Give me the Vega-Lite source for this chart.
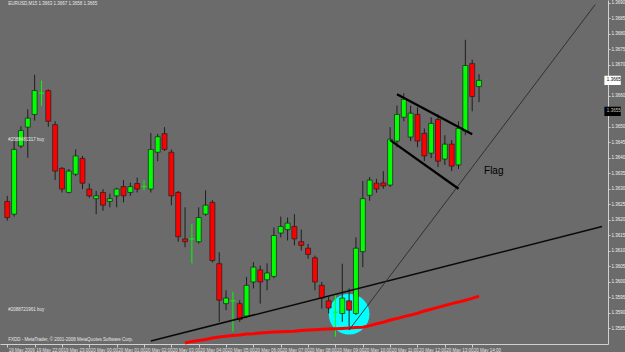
{
  "$schema": "https://vega.github.io/schema/vega-lite/v6.json",
  "width": 608,
  "height": 344,
  "autosize": "none",
  "padding": {"left": 0, "top": 0, "right": 17, "bottom": 8},
  "background": "#6b6b6b",
  "view": {"stroke": null, "fill": "#6b6b6b"},
  "config": {
    "font": "Liberation Sans",
    "axis": {"labelOverlap": false, "labelFlush": false, "grid": false, "labelFontSize": 4.5, "labelColor": "#e6e6e6", "tickColor": "#d0d0d0", "domainColor": "#d0d0d0", "tickSize": 3},
    "axisY": {"labelPadding": 1, "labelBaseline": "middle", "labelOverlap": false, "labelAlign": "left", "labelFontSize": 4.5, "tickSize": 2, "labelColor": "#f0f0f0", "labelBound": false}
  },
  "datasets": {
    "candles": [
      {"t": "2009-05-19T21:00:00Z", "open": 1.36259, "high": 1.36277, "low": 1.36197, "close": 1.36207, "dir": "down"},
      {"t": "2009-05-19T21:15:00Z", "open": 1.36218, "high": 1.3646, "low": 1.3621, "close": 1.36427, "dir": "up"},
      {"t": "2009-05-19T21:30:00Z", "open": 1.36438, "high": 1.36502, "low": 1.36431, "close": 1.36488, "dir": "up"},
      {"t": "2009-05-19T21:45:00Z", "open": 1.36499, "high": 1.36557, "low": 1.364, "close": 1.36528, "dir": "up"},
      {"t": "2009-05-19T22:00:00Z", "open": 1.3654, "high": 1.36668, "low": 1.3652, "close": 1.36617, "dir": "up"},
      {"t": "2009-05-19T22:15:00Z", "open": 1.36609, "high": 1.36649, "low": 1.36568, "close": 1.36609, "dir": "doji"},
      {"t": "2009-05-19T22:30:00Z", "open": 1.36617, "high": 1.36621, "low": 1.365, "close": 1.36518, "dir": "down"},
      {"t": "2009-05-19T22:45:00Z", "open": 1.36507, "high": 1.36518, "low": 1.36328, "close": 1.36357, "dir": "down"},
      {"t": "2009-05-19T23:00:00Z", "open": 1.36366, "high": 1.3637, "low": 1.36288, "close": 1.36299, "dir": "down"},
      {"t": "2009-05-19T23:15:00Z", "open": 1.36288, "high": 1.36364, "low": 1.36285, "close": 1.36357, "dir": "up"},
      {"t": "2009-05-19T23:30:00Z", "open": 1.36347, "high": 1.36427, "low": 1.36341, "close": 1.36406, "dir": "up"},
      {"t": "2009-05-19T23:45:00Z", "open": 1.36398, "high": 1.36406, "low": 1.36299, "close": 1.36318, "dir": "down"},
      {"t": "2009-05-20T00:00:00Z", "open": 1.36299, "high": 1.36317, "low": 1.36271, "close": 1.36277, "dir": "down"},
      {"t": "2009-05-20T00:15:00Z", "open": 1.36268, "high": 1.36293, "low": 1.36218, "close": 1.36277, "dir": "up"},
      {"t": "2009-05-20T00:30:00Z", "open": 1.36288, "high": 1.36299, "low": 1.36229, "close": 1.36247, "dir": "down"},
      {"t": "2009-05-20T00:45:00Z", "open": 1.36259, "high": 1.36284, "low": 1.3624, "close": 1.36268, "dir": "up"},
      {"t": "2009-05-20T01:00:00Z", "open": 1.36277, "high": 1.36303, "low": 1.3624, "close": 1.36299, "dir": "up"},
      {"t": "2009-05-20T01:15:00Z", "open": 1.36307, "high": 1.36328, "low": 1.36256, "close": 1.36277, "dir": "down"},
      {"t": "2009-05-20T01:30:00Z", "open": 1.36288, "high": 1.3632, "low": 1.36277, "close": 1.36307, "dir": "up"},
      {"t": "2009-05-20T01:45:00Z", "open": 1.36317, "high": 1.36336, "low": 1.36288, "close": 1.36299, "dir": "down"},
      {"t": "2009-05-20T02:00:00Z", "open": 1.36307, "high": 1.36328, "low": 1.36295, "close": 1.36307, "dir": "doji"},
      {"t": "2009-05-20T02:15:00Z", "open": 1.36299, "high": 1.3648, "low": 1.36288, "close": 1.36427, "dir": "up"},
      {"t": "2009-05-20T02:30:00Z", "open": 1.36418, "high": 1.36477, "low": 1.36389, "close": 1.36468, "dir": "up"},
      {"t": "2009-05-20T02:45:00Z", "open": 1.36478, "high": 1.36499, "low": 1.36422, "close": 1.36427, "dir": "down"},
      {"t": "2009-05-20T03:00:00Z", "open": 1.36418, "high": 1.36427, "low": 1.36247, "close": 1.36277, "dir": "down"},
      {"t": "2009-05-20T03:15:00Z", "open": 1.36288, "high": 1.36293, "low": 1.36129, "close": 1.36145, "dir": "down"},
      {"t": "2009-05-20T03:30:00Z", "open": 1.36138, "high": 1.3624, "low": 1.36111, "close": 1.36129, "dir": "down", "ma": 1.35802},
      {"t": "2009-05-20T03:45:00Z", "open": 1.36138, "high": 1.36187, "low": 1.36059, "close": 1.36138, "dir": "doji", "ma": 1.35807},
      {"t": "2009-05-20T04:00:00Z", "open": 1.36129, "high": 1.3624, "low": 1.36123, "close": 1.36207, "dir": "up", "ma": 1.3581},
      {"t": "2009-05-20T04:15:00Z", "open": 1.36218, "high": 1.36295, "low": 1.36213, "close": 1.36247, "dir": "up", "ma": 1.35813},
      {"t": "2009-05-20T04:30:00Z", "open": 1.36256, "high": 1.36263, "low": 1.36062, "close": 1.36068, "dir": "down", "ma": 1.35818},
      {"t": "2009-05-20T04:45:00Z", "open": 1.36058, "high": 1.36095, "low": 1.3587, "close": 1.3594, "dir": "down", "ma": 1.35821},
      {"t": "2009-05-20T05:00:00Z", "open": 1.35929, "high": 1.35972, "low": 1.35908, "close": 1.35947, "dir": "up", "ma": 1.35824},
      {"t": "2009-05-20T05:15:00Z", "open": 1.35938, "high": 1.35967, "low": 1.35838, "close": 1.35938, "dir": "doji", "ma": 1.35826},
      {"t": "2009-05-20T05:30:00Z", "open": 1.35929, "high": 1.3594, "low": 1.3587, "close": 1.35878, "dir": "down", "ma": 1.35828},
      {"t": "2009-05-20T05:45:00Z", "open": 1.35889, "high": 1.36015, "low": 1.35882, "close": 1.35988, "dir": "up", "ma": 1.35831},
      {"t": "2009-05-20T06:00:00Z", "open": 1.35999, "high": 1.36063, "low": 1.35978, "close": 1.36047, "dir": "up", "ma": 1.35832},
      {"t": "2009-05-20T06:15:00Z", "open": 1.36038, "high": 1.36052, "low": 1.35929, "close": 1.35999, "dir": "down", "ma": 1.35834},
      {"t": "2009-05-20T06:30:00Z", "open": 1.36006, "high": 1.36059, "low": 1.35972, "close": 1.36028, "dir": "up", "ma": 1.35836},
      {"t": "2009-05-20T06:45:00Z", "open": 1.36017, "high": 1.36175, "low": 1.36011, "close": 1.36149, "dir": "up", "ma": 1.35837},
      {"t": "2009-05-20T07:00:00Z", "open": 1.36157, "high": 1.3621, "low": 1.36143, "close": 1.36178, "dir": "up", "ma": 1.35838},
      {"t": "2009-05-20T07:15:00Z", "open": 1.36168, "high": 1.36207, "low": 1.36133, "close": 1.36189, "dir": "up", "ma": 1.35839},
      {"t": "2009-05-20T07:30:00Z", "open": 1.36178, "high": 1.36218, "low": 1.36117, "close": 1.36138, "dir": "down", "ma": 1.3584},
      {"t": "2009-05-20T07:45:00Z", "open": 1.36129, "high": 1.36168, "low": 1.361, "close": 1.36117, "dir": "down", "ma": 1.35842},
      {"t": "2009-05-20T08:00:00Z", "open": 1.36108, "high": 1.36122, "low": 1.36074, "close": 1.36088, "dir": "down", "ma": 1.35844},
      {"t": "2009-05-20T08:15:00Z", "open": 1.36077, "high": 1.36084, "low": 1.35972, "close": 1.35999, "dir": "down", "ma": 1.35845},
      {"t": "2009-05-20T08:30:00Z", "open": 1.35988, "high": 1.35999, "low": 1.35913, "close": 1.35947, "dir": "down", "ma": 1.35846},
      {"t": "2009-05-20T08:45:00Z", "open": 1.35938, "high": 1.35951, "low": 1.35897, "close": 1.35915, "dir": "down", "ma": 1.35847},
      {"t": "2009-05-20T09:00:00Z", "open": 1.35901, "high": 1.35956, "low": 1.35822, "close": 1.35901, "dir": "doji", "ma": 1.35848},
      {"t": "2009-05-20T09:15:00Z", "open": 1.35897, "high": 1.36058, "low": 1.3587, "close": 1.35947, "dir": "up", "ma": 1.35849},
      {"t": "2009-05-20T09:30:00Z", "open": 1.35938, "high": 1.35978, "low": 1.35844, "close": 1.35908, "dir": "down", "ma": 1.3585},
      {"t": "2009-05-20T09:45:00Z", "open": 1.35897, "high": 1.36143, "low": 1.35892, "close": 1.36108, "dir": "up", "ma": 1.35852},
      {"t": "2009-05-20T10:00:00Z", "open": 1.36097, "high": 1.36325, "low": 1.36047, "close": 1.36268, "dir": "up", "ma": 1.35853},
      {"t": "2009-05-20T10:15:00Z", "open": 1.36279, "high": 1.36338, "low": 1.36261, "close": 1.36328, "dir": "up", "ma": 1.35858},
      {"t": "2009-05-20T10:30:00Z", "open": 1.36318, "high": 1.36332, "low": 1.36287, "close": 1.36299, "dir": "down", "ma": 1.35864},
      {"t": "2009-05-20T10:45:00Z", "open": 1.36319, "high": 1.36357, "low": 1.363, "close": 1.36309, "dir": "down", "ma": 1.35869},
      {"t": "2009-05-20T11:00:00Z", "open": 1.36312, "high": 1.36499, "low": 1.36306, "close": 1.3646, "dir": "up", "ma": 1.35876},
      {"t": "2009-05-20T11:15:00Z", "open": 1.36454, "high": 1.36569, "low": 1.36434, "close": 1.3654, "dir": "up", "ma": 1.35881},
      {"t": "2009-05-20T11:30:00Z", "open": 1.36531, "high": 1.36608, "low": 1.36518, "close": 1.36589, "dir": "up", "ma": 1.35887},
      {"t": "2009-05-20T11:45:00Z", "open": 1.36467, "high": 1.36569, "low": 1.36454, "close": 1.36544, "dir": "up", "ma": 1.35892},
      {"t": "2009-05-20T12:00:00Z", "open": 1.3654, "high": 1.36563, "low": 1.36434, "close": 1.36454, "dir": "down", "ma": 1.35898},
      {"t": "2009-05-20T12:15:00Z", "open": 1.36479, "high": 1.36495, "low": 1.36389, "close": 1.36406, "dir": "down", "ma": 1.35905},
      {"t": "2009-05-20T12:30:00Z", "open": 1.36415, "high": 1.36531, "low": 1.36399, "close": 1.36511, "dir": "up", "ma": 1.35911},
      {"t": "2009-05-20T12:45:00Z", "open": 1.36524, "high": 1.3654, "low": 1.3637, "close": 1.36389, "dir": "down", "ma": 1.35917},
      {"t": "2009-05-20T13:00:00Z", "open": 1.36396, "high": 1.36473, "low": 1.36377, "close": 1.36444, "dir": "up", "ma": 1.35923},
      {"t": "2009-05-20T13:15:00Z", "open": 1.36444, "high": 1.36457, "low": 1.36357, "close": 1.36373, "dir": "down", "ma": 1.35929},
      {"t": "2009-05-20T13:30:00Z", "open": 1.36377, "high": 1.36518, "low": 1.36364, "close": 1.36495, "dir": "up", "ma": 1.35934},
      {"t": "2009-05-20T13:45:00Z", "open": 1.36486, "high": 1.36781, "low": 1.36473, "close": 1.36698, "dir": "up", "ma": 1.3594},
      {"t": "2009-05-20T14:00:00Z", "open": 1.36704, "high": 1.36717, "low": 1.3655, "close": 1.36598, "dir": "down", "ma": 1.35946},
      {"t": "2009-05-20T14:15:00Z", "open": 1.3663, "high": 1.3667, "low": 1.3658, "close": 1.3665, "dir": "up", "ma": 1.35953}
    ],
    "trend": [
      {"id": "support", "t": "2009-05-20T02:15:00Z", "p": 1.35808},
      {"id": "support", "t": "2009-05-20T18:45:00Z", "p": 1.36178},
      {"id": "diag", "t": "2009-05-20T09:30:00Z", "p": 1.35844},
      {"id": "diag", "t": "2009-05-20T18:30:00Z", "p": 1.36895},
      {"id": "flagTop", "t": "2009-05-20T11:15:00Z", "p": 1.36605},
      {"id": "flagTop", "t": "2009-05-20T14:00:00Z", "p": 1.36476},
      {"id": "flagBottom", "t": "2009-05-20T11:00:00Z", "p": 1.36457},
      {"id": "flagBottom", "t": "2009-05-20T13:30:00Z", "p": 1.363}
    ]
  },
  "encoding": {
    "x": {
      "field": "t", "type": "temporal", "title": null,
      "scale": {"type": "utc", "domain": [
        {"year": 2009, "month": 5, "date": 19, "hours": 20, "minutes": 55, "utc": true},
        {"year": 2009, "month": 5, "date": 20, "hours": 18, "minutes": 47, "utc": true}
      ]},
      "axis": {
        "values": [
          {"year": 2009, "month": 5, "date": 19, "hours": 21, "utc": true},
          {"year": 2009, "month": 5, "date": 19, "hours": 22, "utc": true},
          {"year": 2009, "month": 5, "date": 19, "hours": 23, "utc": true},
          {"year": 2009, "month": 5, "date": 20, "hours": 0, "utc": true},
          {"year": 2009, "month": 5, "date": 20, "hours": 1, "utc": true},
          {"year": 2009, "month": 5, "date": 20, "hours": 2, "utc": true},
          {"year": 2009, "month": 5, "date": 20, "hours": 3, "utc": true},
          {"year": 2009, "month": 5, "date": 20, "hours": 4, "utc": true},
          {"year": 2009, "month": 5, "date": 20, "hours": 5, "utc": true},
          {"year": 2009, "month": 5, "date": 20, "hours": 6, "utc": true},
          {"year": 2009, "month": 5, "date": 20, "hours": 7, "utc": true},
          {"year": 2009, "month": 5, "date": 20, "hours": 8, "utc": true},
          {"year": 2009, "month": 5, "date": 20, "hours": 9, "utc": true},
          {"year": 2009, "month": 5, "date": 20, "hours": 10, "utc": true},
          {"year": 2009, "month": 5, "date": 20, "hours": 11, "utc": true},
          {"year": 2009, "month": 5, "date": 20, "hours": 12, "utc": true},
          {"year": 2009, "month": 5, "date": 20, "hours": 13, "utc": true},
          {"year": 2009, "month": 5, "date": 20, "hours": 14, "utc": true}
        ],
        "tickCount": 40,
        "labelExpr": "utcFormat(datum.value, '%H') == '21' ? '19 May 2009' : utcFormat(datum.value, '%d %b %H:%M')",
        "labelAlign": "left", "labelBaseline": "top", "labelOffset": 1, "labelPadding": 0
      }
    }
  },
  "layer": [
    {
      "data": {"values": [{"t": "2009-05-20T09:30:00Z", "p": 1.35895}]},
      "mark": {"type": "point", "filled": true, "size": 1660, "color": "#00ffff", "opacity": 1, "strokeWidth": 0},
      "encoding": {
        "y": {"field": "p", "type": "quantitative", "title": null,
          "scale": {"domain": [1.357986, 1.369096], "zero": false, "nice": false},
          "axis": {
            "orient": "right",
            "tickCount": 60,
            "values": [1.3585, 1.359, 1.3595, 1.36, 1.3605, 1.361, 1.3615, 1.362, 1.3625, 1.363, 1.3635, 1.364, 1.3645, 1.365, 1.3655, 1.366, 1.3665, 1.367, 1.3675, 1.368, 1.3685, 1.369],
            "labelExpr": "(abs(datum.value - 1.3655) < 0.00001 || abs(datum.value - 1.3665) < 0.00001) ? '' : format(datum.value, '.4f')",
            "labelOverlap": false
          }
        }
      }
    },
    {
      "data": {"name": "candles"},
      "mark": {"type": "rule", "strokeWidth": 1},
      "encoding": {
        "y": {"field": "low", "type": "quantitative", "title": null, "axis": {"orient": "right"}},
        "y2": {"field": "high"},
        "color": {"condition": {"test": "datum.dir === 'doji'", "value": "#00ff00"}, "value": "#1e1e1e"}
      }
    },
    {
      "data": {"name": "candles"},
      "mark": {"type": "bar", "width": 5, "strokeWidth": 0.7},
      "encoding": {
        "y": {"field": "open", "type": "quantitative", "title": null, "axis": {"orient": "right"}},
        "y2": {"field": "close"},
        "fill": {"condition": {"test": "datum.dir === 'down'", "value": "#ff0000"}, "value": "#00ff00"},
        "stroke": {"condition": {"test": "datum.dir === 'doji'", "value": "#00ff00"}, "value": "#1e1e1e"}
      }
    },
    {
      "data": {"name": "candles"},
      "transform": [{"filter": "isValid(datum.ma)"}],
      "mark": {"type": "line", "color": "#ff0000", "strokeWidth": 3},
      "encoding": {"y": {"field": "ma", "type": "quantitative", "title": null, "axis": {"orient": "right"}}}
    },
    {
      "data": {"values": [{"p": 1.3665}]},
      "mark": {"type": "rule", "color": "#b0b0b0", "strokeWidth": 1},
      "encoding": {"y": {"field": "p", "type": "quantitative", "title": null, "axis": {"orient": "right"}}}
    },
    {
      "data": {"values": [{"p": 1.3645}]},
      "mark": {"type": "rule", "color": "#3cb43c", "strokeWidth": 1, "strokeDash": [6, 2, 1, 2]},
      "encoding": {"y": {"field": "p", "type": "quantitative", "title": null, "axis": {"orient": "right"}}}
    },
    {
      "data": {"values": [{"p": 1.3614}]},
      "mark": {"type": "rule", "color": "#2e3022", "strokeWidth": 1, "strokeDash": [8, 3, 2, 3]},
      "encoding": {"y": {"field": "p", "type": "quantitative", "title": null, "axis": {"orient": "right"}}}
    },
    {
      "data": {"values": [{"p": 1.359}]},
      "mark": {"type": "rule", "color": "#32a832", "strokeWidth": 1, "strokeDash": [4, 3]},
      "encoding": {"y": {"field": "p", "type": "quantitative", "title": null, "axis": {"orient": "right"}}}
    },
    {
      "data": {"values": [{"p": 1.3655}]},
      "mark": {"type": "rule", "color": "#000000", "strokeWidth": 3},
      "encoding": {"y": {"field": "p", "type": "quantitative", "title": null, "axis": {"orient": "right"}}}
    },
    {
      "data": {"name": "trend"},
      "transform": [{"filter": "datum.id === 'support'"}],
      "mark": {"type": "line", "color": "#0a0a0a", "strokeWidth": 1.5},
      "encoding": {"y": {"field": "p", "type": "quantitative", "title": null, "axis": {"orient": "right"}}}
    },
    {
      "data": {"name": "trend"},
      "transform": [{"filter": "datum.id === 'diag'"}],
      "mark": {"type": "line", "color": "#2a2a2a", "strokeWidth": 0.9},
      "encoding": {"y": {"field": "p", "type": "quantitative", "title": null, "axis": {"orient": "right"}}}
    },
    {
      "data": {"name": "trend"},
      "transform": [{"filter": "datum.id === 'flagTop' || datum.id === 'flagBottom'"}],
      "mark": {"type": "line", "color": "#000000", "strokeWidth": 2.2},
      "encoding": {
        "y": {"field": "p", "type": "quantitative", "title": null, "axis": {"orient": "right"}},
        "detail": {"field": "id", "type": "nominal"}
      }
    },
    {
      "data": {"values": [
        {"t": "2009-05-19T21:02:00Z", "p": 1.36897, "label": "EURUSD,M15  1.3663 1.3667 1.3658 1.3665"},
        {"t": "2009-05-19T21:02:00Z", "p": 1.35812, "label": "FXDD - MetaTrader, © 2001-2008 MetaQuotes Software Corp."},
        {"t": "2009-05-19T21:02:00Z", "p": 1.36458, "label": "#2088481317 buy"},
        {"t": "2009-05-19T21:02:00Z", "p": 1.35907, "label": "#2088721961 buy"}
      ]},
      "mark": {"type": "text", "align": "left", "baseline": "middle", "fontSize": 4.5, "color": "#e8e8e8"},
      "encoding": {
        "y": {"field": "p", "type": "quantitative", "title": null, "axis": {"orient": "right"}},
        "text": {"field": "label", "type": "nominal"}
      }
    },
    {
      "data": {"values": [{"t": "2009-05-20T14:26:00Z", "p": 1.36357, "label": "Flag"}]},
      "mark": {"type": "text", "align": "left", "baseline": "middle", "fontSize": 10, "color": "#000000"},
      "encoding": {
        "y": {"field": "p", "type": "quantitative", "title": null, "axis": {"orient": "right"}},
        "text": {"field": "label", "type": "nominal"}
      }
    },
    {
      "data": {"values": [
        {"t": "2009-05-20T18:50:00Z", "t2": "2009-05-20T19:26:00Z", "lo": 1.36635, "hi": 1.36665, "box": "bid"},
        {"t": "2009-05-20T18:50:00Z", "t2": "2009-05-20T19:26:00Z", "lo": 1.36535, "hi": 1.36565, "box": "level"}
      ]},
      "mark": {"type": "rect"},
      "encoding": {
        "x2": {"field": "t2"},
        "y": {"field": "lo", "type": "quantitative", "title": null, "axis": {"orient": "right"}},
        "y2": {"field": "hi"},
        "fill": {"condition": {"test": "datum.box === 'bid'", "value": "#ffffff"}, "value": "#000000"}
      }
    },
    {
      "data": {"values": [
        {"t": "2009-05-20T18:55:30Z", "p": 1.3665, "label": "1.3665", "box": "bid"},
        {"t": "2009-05-20T18:55:30Z", "p": 1.3655, "label": "1.3655", "box": "level"}
      ]},
      "mark": {"type": "text", "align": "left", "baseline": "middle", "fontSize": 4.5},
      "encoding": {
        "y": {"field": "p", "type": "quantitative", "title": null, "axis": {"orient": "right"}},
        "text": {"field": "label", "type": "nominal"},
        "fill": {"condition": {"test": "datum.box === 'bid'", "value": "#000000"}, "value": "#c8c8c8"}
      }
    }
  ]
}
